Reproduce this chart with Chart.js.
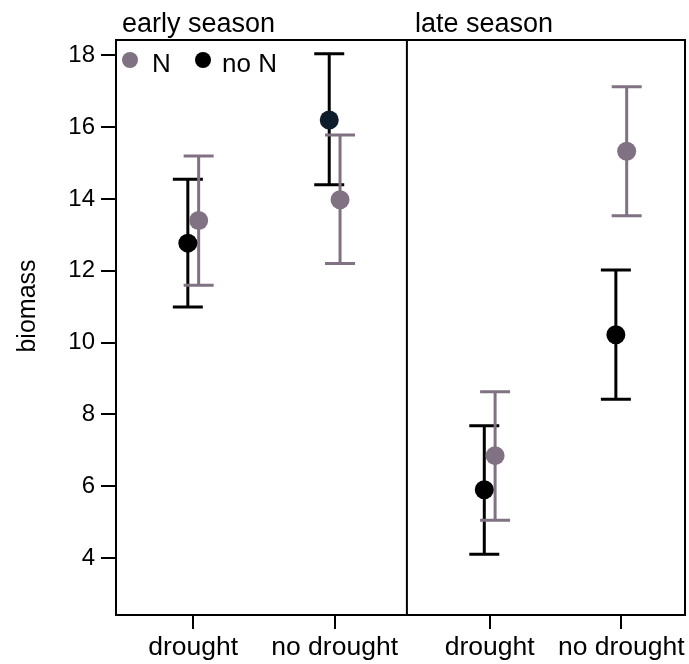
<!DOCTYPE html>
<html>
<head>
<meta charset="utf-8">
<script src="https://cdn.jsdelivr.net/npm/chart.js@4.4.1/dist/chart.umd.min.js"></script>
<style>
  html, body { margin: 0; padding: 0; background: #fff; }
  #wrap { width: 689px; height: 664px; position: relative; }
</style>
</head>
<body>
<div id="wrap"><canvas id="c" width="689" height="664"></canvas></div>
<script>
// ---- data ----
const seasons = ['early season', 'late season'];
const categories = ['drought', 'no drought', 'drought', 'no drought'];
const yTicks = [4, 6, 8, 10, 12, 14, 16, 18];

const nMean  = [13.40, 13.98, 6.85, 15.33];
const nLow   = [11.60, 12.20, 5.05, 13.53];
const nHigh  = [15.20, 15.78, 8.63, 17.13];

const noNMean = [12.77, 16.20, 5.90, 10.22];
const noNLow  = [10.99, 14.40, 4.10, 8.42];
const noNHigh = [14.55, 18.05, 7.68, 12.02];

// ---- layout helpers (positions on the x scale) ----
const catPos = [0.543, 1.537, 2.627, 3.552];
const panelDivide = 2.045;
const dodge = 0.038;

const GREY = '#807282';
const BLACK = '#000000';
const FONT = "'Liberation Sans', Arial, Helvetica, sans-serif";

const noNPointColors = [BLACK, '#0e1c2b', BLACK, BLACK];

const dsN = {
  label: 'N',
  data: nMean.map((v, i) => ({ x: catPos[i] + dodge, y: v, lo: nLow[i], hi: nHigh[i] })),
  backgroundColor: GREY, borderColor: GREY,
  pointRadius: 9.5, pointBorderWidth: 0, showLine: false, errColor: GREY
};
const dsNoN = {
  label: 'no N',
  data: noNMean.map((v, i) => ({ x: catPos[i] - dodge, y: v, lo: noNLow[i], hi: noNHigh[i] })),
  backgroundColor: noNPointColors, borderColor: noNPointColors,
  pointRadius: 9.5, pointBorderWidth: 0, showLine: false, errColor: BLACK
};

const errorBars = {
  id: 'errorBars',
  beforeDatasetsDraw(chart) {
    const ctx = chart.ctx, xs = chart.scales.x, ys = chart.scales.y;
    chart.data.datasets.forEach(ds => {
      ctx.save();
      ctx.strokeStyle = ds.errColor;
      ctx.lineWidth = 3;
      ds.data.forEach(p => {
        const x = xs.getPixelForValue(p.x);
        const y1 = ys.getPixelForValue(p.lo), y2 = ys.getPixelForValue(p.hi);
        ctx.beginPath();
        ctx.moveTo(x, y1); ctx.lineTo(x, y2);
        ctx.moveTo(x - 15, y1); ctx.lineTo(x + 15, y1);
        ctx.moveTo(x - 15, y2); ctx.lineTo(x + 15, y2);
        ctx.stroke();
      });
      ctx.restore();
    });
  }
};

const frame = {
  id: 'frame',
  afterDraw(chart) {
    const ctx = chart.ctx, a = chart.chartArea, xs = chart.scales.x;
    ctx.save();
    ctx.strokeStyle = '#000';
    ctx.lineWidth = 2;
    ctx.strokeRect(a.left, a.top, a.right - a.left, a.bottom - a.top);
    const xd = xs.getPixelForValue(panelDivide);
    ctx.beginPath(); ctx.moveTo(xd, a.top); ctx.lineTo(xd, a.bottom); ctx.stroke();

    // panel titles
    ctx.fillStyle = '#000';
    ctx.font = '27px ' + FONT;
    ctx.textAlign = 'left';
    ctx.textBaseline = 'alphabetic';
    ctx.fillText(seasons[0], a.left + 6, a.top - 8);
    ctx.fillText(seasons[1], xd + 8, a.top - 8);

    // legend
    const ly = a.top + 20;
    ctx.fillStyle = GREY;
    ctx.beginPath(); ctx.arc(a.left + 14, ly, 8, 0, Math.PI * 2); ctx.fill();
    ctx.fillStyle = BLACK;
    ctx.beginPath(); ctx.arc(a.left + 87, ly, 8, 0, Math.PI * 2); ctx.fill();
    ctx.font = '26px ' + FONT;
    ctx.textBaseline = 'alphabetic';
    ctx.fillText(dsN.label, a.left + 36, ly + 12);
    ctx.fillText(dsNoN.label, a.left + 106, ly + 12);

    // y title
    ctx.save();
    ctx.translate(28, 306);
    ctx.rotate(-Math.PI / 2);
    ctx.textAlign = 'center';
    ctx.textBaseline = 'middle';
    ctx.font = '25px ' + FONT;
    ctx.fillText('biomass', 0, 0);
    ctx.restore();
    ctx.restore();
  }
};

new Chart(document.getElementById('c'), {
  type: 'scatter',
  data: { datasets: [dsNoN, dsN] },
  options: {
    responsive: false,
    animation: false,
    layout: { autoPadding: false, padding: { top: 40, right: 4, left: 0, bottom: 0 } },
    plugins: { legend: { display: false }, tooltip: { enabled: false } },
    scales: {
      x: {
        type: 'linear', min: 0, max: 4,
        afterBuildTicks: s => { s.ticks = catPos.map(v => ({ value: v })); },
        afterFit: s => { s.height = 49; s.paddingLeft = 0; s.paddingRight = 0; },
        ticks: {
          autoSkip: false, maxRotation: 0, padding: 3,
          color: '#000', font: { size: 26.5, family: FONT },
          callback: (v, i) => categories[i]
        },
        grid: { drawOnChartArea: false, drawTicks: true, tickLength: 14, color: '#000', lineWidth: 2 },
        border: { display: true, color: '#000', width: 2 }
      },
      y: {
        type: 'linear', min: 2.41, max: 18.43,
        afterBuildTicks: s => { s.ticks = yTicks.map(v => ({ value: v })); },
        afterFit: s => { s.width = 116; s.paddingTop = 0; s.paddingBottom = 0; },
        ticks: { color: '#000', font: { size: 24, family: FONT }, padding: 6 },
        grid: { drawOnChartArea: false, drawTicks: true, tickLength: 15, color: '#000', lineWidth: 2 },
        border: { display: true, color: '#000', width: 2 }
      }
    }
  },
  plugins: [errorBars, frame]
});
</script>
</body>
</html>
